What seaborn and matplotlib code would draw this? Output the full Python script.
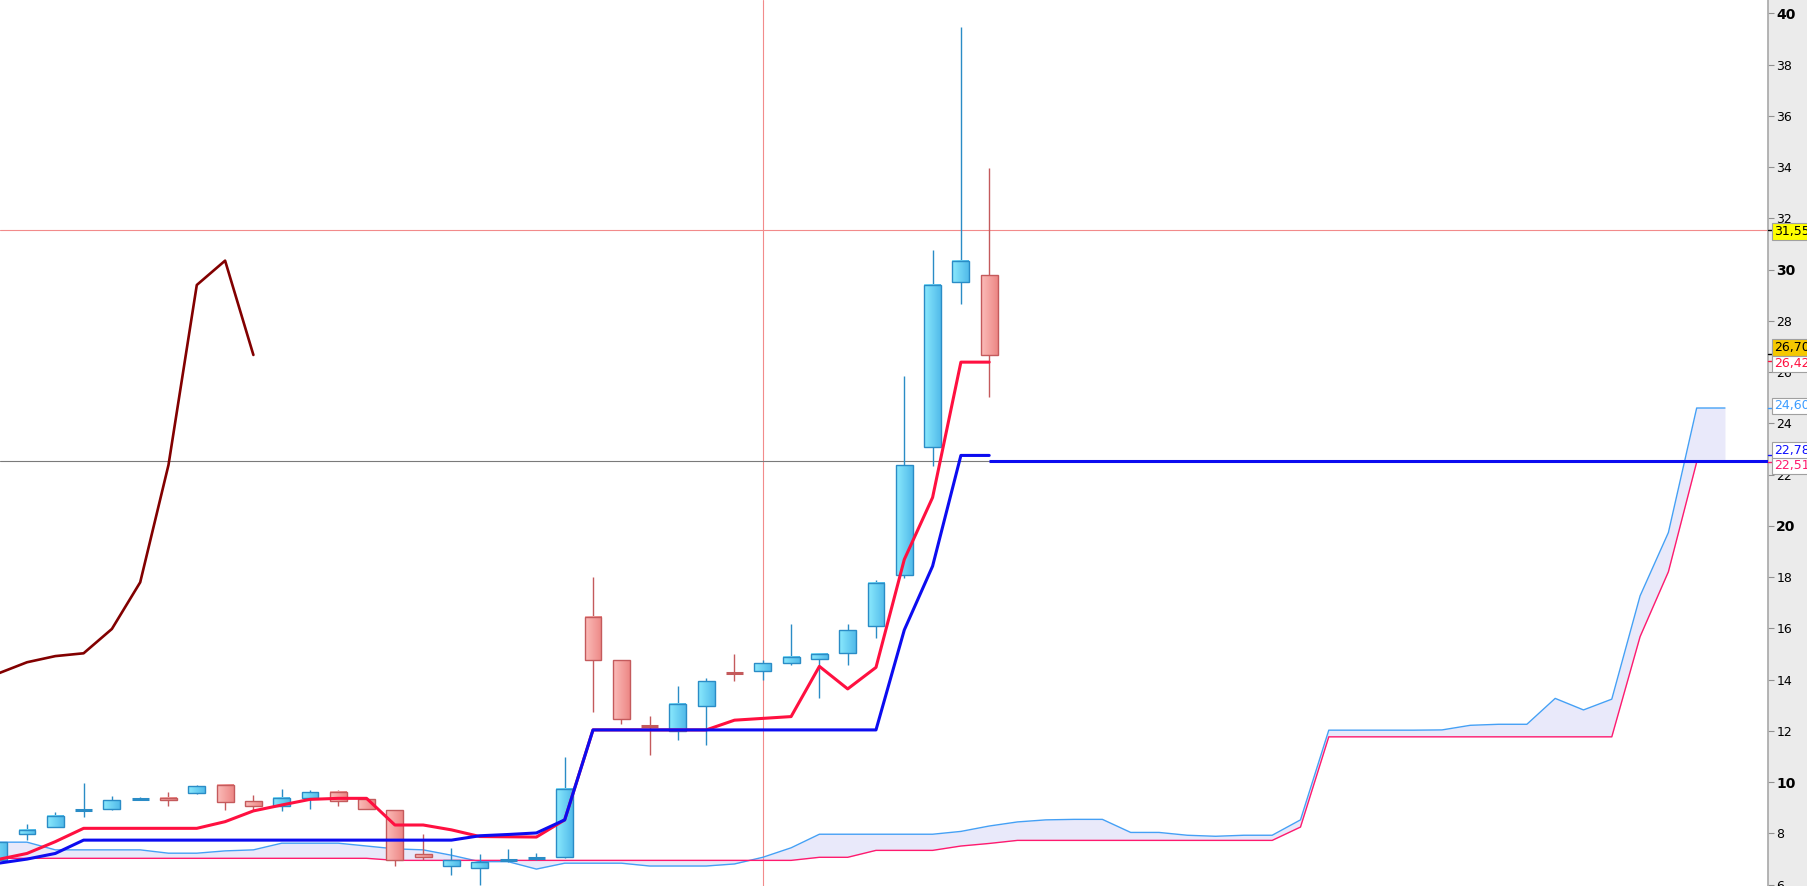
import numpy as np
import pandas as pd
import seaborn as sns
import matplotlib.pyplot as plt
from matplotlib.colors import LinearSegmentedColormap
from matplotlib.transforms import blended_transform_factory

# candles (open, high, low, close)
opens = [6.97, 7.97, 8.27, 8.90, 8.97, 9.31, 9.38, 9.58, 9.89, 9.25, 9.06, 9.38,
         9.61, 9.34, 8.93, 7.18, 6.73, 6.67, 6.96, 7.04, 7.09, 16.46, 14.78, 12.21,
         12.00, 12.98, 14.28, 14.35, 14.66, 14.82, 15.06, 16.08, 18.07, 23.07, 29.50, 29.78]
highs = [7.70, 8.37, 8.83, 9.96, 9.46, 9.42, 9.63, 9.90, 9.89, 9.49, 9.72, 9.70,
         9.70, 9.34, 8.93, 7.97, 7.44, 7.18, 7.39, 7.22, 10.97, 18.00, 14.78, 12.57,
         13.77, 14.08, 14.99, 14.77, 16.16, 15.06, 16.16, 17.88, 25.85, 30.77, 39.47, 33.96]
lows = [6.90, 7.73, 8.27, 8.66, 8.93, 9.30, 9.06, 9.53, 8.90, 8.89, 8.86, 8.97,
        9.09, 8.97, 6.73, 6.96, 6.38, 6.00, 6.88, 6.98, 7.04, 12.74, 12.27, 11.06,
        11.64, 11.45, 13.95, 14.00, 14.57, 13.30, 14.57, 15.64, 17.98, 22.35, 28.67, 25.04]
closes = [7.66, 8.13, 8.70, 8.92, 9.29, 9.38, 9.30, 9.85, 9.22, 9.09, 9.38, 9.61,
          9.25, 8.97, 6.98, 7.09, 6.96, 6.90, 7.00, 7.08, 9.75, 14.78, 12.48, 12.17,
          13.07, 13.95, 14.24, 14.66, 14.90, 15.02, 15.95, 17.79, 22.36, 29.40, 30.35, 26.66]

# ichimoku lines
tenkan = [6.99, 7.22, 7.68, 8.20, 8.20, 8.20, 8.20, 8.20, 8.46, 8.88, 9.11, 9.33,
          9.37, 9.37, 8.33, 8.33, 8.14, 7.88, 7.87, 7.86, 8.53, 12.04, 12.04, 12.04,
          12.04, 12.04, 12.42, 12.49, 12.56, 14.52, 13.64, 14.48, 18.69, 21.11, 26.39, 26.39]
kijun = [6.84, 7.00, 7.22, 7.74, 7.74, 7.74, 7.74, 7.74, 7.74, 7.74, 7.74, 7.74,
         7.74, 7.74, 7.74, 7.74, 7.74, 7.91, 7.96, 8.02, 8.53, 12.04, 12.04, 12.04,
         12.04, 12.04, 12.04, 12.04, 12.04, 12.04, 12.04, 12.04, 15.94, 18.43, 22.75, 22.75]
chikou = [14.25, 14.68, 14.92, 15.03, 15.98, 17.80, 22.38, 29.40, 30.35, 26.67]
senkou_a = [7.66, 7.66, 7.36, 7.36, 7.36, 7.36, 7.23, 7.23, 7.32, 7.36, 7.62, 7.62,
            7.62, 7.51, 7.40, 7.36, 7.15, 6.90, 6.90, 6.61, 6.84, 6.84, 6.84, 6.73,
            6.73, 6.73, 6.81, 7.07, 7.44, 7.97, 7.97, 7.97, 7.97, 7.97, 8.08, 8.29,
            8.45, 8.53, 8.55, 8.55, 8.04, 8.04, 7.93, 7.89, 7.93, 7.93, 8.53, 12.03,
            12.03, 12.03, 12.03, 12.04, 12.22, 12.26, 12.26, 13.27, 12.82, 13.24, 17.27,
            19.74, 24.60, 24.60]
senkou_b = [7.03] * 14 + [6.95] * 15 + [7.07, 7.07, 7.34, 7.34, 7.34, 7.51, 7.61] + \
           [7.73] * 10 + [8.25] + [11.77] * 11 + [15.68, 18.21, 22.49, 22.49]

level_line = 22.53      # thick blue horizontal + grey crosshair
cross_x = 27
cross_y = 31.55

yticks = list(range(6, 41, 2))
value_labels = [
    ("31,55", 31.50, "black", "#ffff00", "black"),
    ("26,660", 26.68, "#800000", "white", "black"),
    ("26,70", 26.96, "black", "#f5c800", "black"),
    ("26,420", 26.32, "#ff1040", "white", "#ff1040"),
    ("24,600", 24.68, "#3b9cff", "white", "#3b9cff"),
    ("22,780", 22.94, "#1010ff", "white", "#1010ff"),
    ("22,510", 22.34, "#ff1a6e", "white", "#ff1a6e"),
]
label_ticks = [31.55, 26.70, 26.42, 24.60, 22.78, 22.51]

sns.set_style("white")
plt.rcParams['font.family'] = ['DejaVu Sans']

W, H = 1807, 886
fig = plt.figure(figsize=(W / 100, H / 100), dpi=100, facecolor="#ebebeb")
ax = fig.add_axes([0, 0, 1768 / W, 1])
ax.set_facecolor("white")

n = len(opens)
idx = np.arange(n)
df = pd.DataFrame({"i": idx, "o": opens, "h": highs, "l": lows, "c": closes,
                   "tenkan": tenkan, "kijun": kijun})
cloud = pd.DataFrame({"i": np.arange(len(senkou_a)), "a": senkou_a, "b": senkou_b})
lag = pd.DataFrame({"i": np.arange(len(chikou)), "v": chikou})

# cloud
ax.fill_between(cloud["i"], cloud["a"], cloud["b"], color="#e9e9fa", lw=0, zorder=1)
sns.lineplot(data=cloud, x="i", y="a", ax=ax, color="#45a0f5", lw=1.0, zorder=2)
sns.lineplot(data=cloud, x="i", y="b", ax=ax, color="#ff1a6e", lw=1.0, zorder=2)

# crosshair
ax.axvline(cross_x, color="#f28b8b", lw=0.8, zorder=1.5)
ax.axhline(cross_y, color="#f28b8b", lw=0.8, zorder=1.5)
ax.axhline(level_line, color="#7a7a7a", lw=0.8, zorder=1.5)

# candles
up_cmap = LinearSegmentedColormap.from_list("up", ["#8ae9fd", "#52bbea"])
dn_cmap = LinearSegmentedColormap.from_list("dn", ["#fcbcb9", "#ec8886"])
grad = np.linspace(0, 1, 32).reshape(1, -1)
bw = 0.6
for _, r in df.iterrows():
    up = r.c >= r.o
    edge = "#2a8cc6" if up else "#c45a5c"
    ax.vlines(r.i, r.l, r.h, color=edge, lw=1.0, zorder=3)
    lo, hi = min(r.o, r.c), max(r.o, r.c)
    if hi - lo < 0.08:
        ax.hlines((lo + hi) / 2, r.i - bw / 2, r.i + bw / 2, color=edge, lw=2.2, zorder=4)
        continue
    ax.imshow(grad, extent=[r.i - bw / 2, r.i + bw / 2, lo, hi], aspect="auto",
              cmap=up_cmap if up else dn_cmap, zorder=4, interpolation="bilinear")
    ax.bar(r.i, hi - lo, bottom=lo, width=bw, facecolor="none", edgecolor=edge,
           lw=1.0, zorder=5)

# lines
sns.lineplot(data=df, x="i", y="tenkan", ax=ax, color="#ff1040", lw=2.2, zorder=6)
sns.lineplot(data=df, x="i", y="kijun", ax=ax, color="#0c0cf0", lw=2.2, zorder=6)
sns.lineplot(data=lag, x="i", y="v", ax=ax, color="#820000", lw=1.9, zorder=6)
ax.hlines(level_line, n - 1, 70, color="#0c0cf0", lw=2.2, zorder=6)

ax.set_xlim(0.046, 62.52)
ax.set_ylim(5.95, 40.52)
ax.set_xlabel("")
ax.set_ylabel("")
ax.set_xticks([])

for s in ["top", "left", "bottom"]:
    ax.spines[s].set_visible(False)
ax.spines["right"].set_color("#a8a8a8")
ax.spines["right"].set_linewidth(1.2)
ax.yaxis.tick_right()
ax.set_yticks(yticks)
ax.set_yticklabels([str(t) for t in yticks])
ax.tick_params(axis="y", direction="out", length=4, width=0.8, color="#909090",
               pad=2, labelsize=9, labelcolor="black")
for t, lab in zip(yticks, ax.get_yticklabels()):
    if t % 10 == 0:
        lab.set_fontweight("bold")
        lab.set_fontsize(10)

tr = blended_transform_factory(ax.transAxes, ax.transData)
for txt, y, col, face, ec in value_labels:
    ax.text(1.0032, y, txt, transform=tr, color=col, fontsize=9, va="center", ha="left",
            clip_on=False, zorder=10,
            bbox=dict(boxstyle="square,pad=0.15", facecolor=face, edgecolor="#a0a0a0", lw=0.8))
for y, col in zip(label_ticks, ["black", "black", "#ff1040", "#3b9cff", "#1010ff", "#ff1a6e"]):
    ax.plot([1.0, 1.003], [y, y], transform=tr, color=col, lw=1, clip_on=False, zorder=9)

fig.savefig("out.png", dpi=100, facecolor=fig.get_facecolor())
